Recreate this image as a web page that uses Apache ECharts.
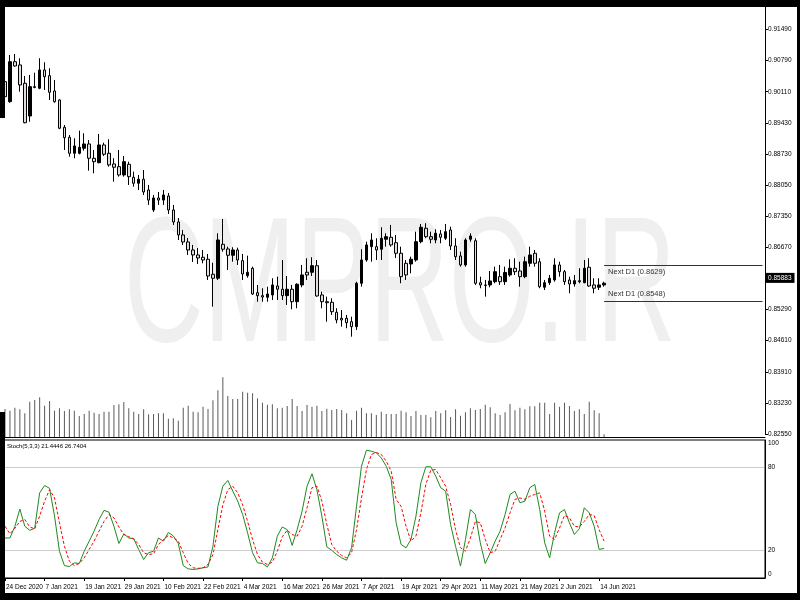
<!DOCTYPE html>
<html><head><meta charset="utf-8">
<script src="https://cdn.jsdelivr.net/npm/echarts@6/dist/echarts.min.js"></script>
<style>html,body{margin:0;padding:0;background:#fff}#c{width:800px;height:600px}</style>
</head><body><div id="c"></div>
<script>
// ---- tick labels ----
const xTickLabels = ['24 Dec 2020','7 Jan 2021','19 Jan 2021','29 Jan 2021','10 Feb 2021','22 Feb 2021','4 Mar 2021','16 Mar 2021','26 Mar 2021','7 Apr 2021','19 Apr 2021','29 Apr 2021','11 May 2021','21 May 2021','2 Jun 2021','14 Jun 2021'];
const priceTicks = ['0.82550','0.83230','0.83910','0.84610','0.85290','0.85990','0.86670','0.87350','0.88050','0.88730','0.89430','0.90110','0.90790','0.91490'];
const stochTicks = [0, 20, 80, 100];

// ---- daily OHLC (EURGBP D1) ----
const open = [0.90336,0.89894,0.90778,0.90706,0.90301,0.89578,0.90226,0.90191,0.90595,0.90469,0.90131,0.89932,0.89329,0.89108,0.88754,0.88754,0.88865,0.8896,0.88644,0.88546,0.88938,0.88754,0.88518,0.88458,0.88275,0.88511,0.88224,0.88091,0.8818,0.87943,0.87501,0.87766,0.8772,0.8781,0.87501,0.87236,0.86949,0.86794,0.86617,0.86507,0.86456,0.86412,0.8608,0.85992,0.86743,0.86639,0.865,0.86617,0.86381,0.86049,0.86213,0.85673,0.85607,0.85572,0.85623,0.85821,0.85749,0.85607,0.85749,0.85474,0.85844,0.86124,0.86124,0.8627,0.85623,0.85474,0.85461,0.8524,0.85108,0.85108,0.85032,0.84922,0.85881,0.86396,0.8669,0.8669,0.86633,0.86854,0.86898,0.86778,0.86544,0.86323,0.86308,0.86396,0.868,0.87097,0.86911,0.86838,0.86971,0.86876,0.87059,0.86705,0.86484,0.86286,0.86854,0.86822,0.85894,0.85844,0.85844,0.85916,0.86027,0.85916,0.86065,0.86213,0.86153,0.86027,0.86323,0.86544,0.86358,0.85793,0.85894,0.85954,0.86286,0.86137,0.85954,0.85866,0.85939,0.85894,0.86235,0.85844,0.85793,0.85844];
const close = [0.90005,0.90778,0.90683,0.90264,0.8943,0.90226,0.90208,0.90595,0.90447,0.90102,0.89894,0.89307,0.89099,0.88754,0.88915,0.88887,0.8896,0.88644,0.88568,0.88938,0.88732,0.88496,0.88445,0.88275,0.88568,0.88237,0.88091,0.8818,0.87899,0.8772,0.87766,0.8772,0.87833,0.87501,0.87236,0.86949,0.86794,0.86617,0.86507,0.8644,0.86396,0.86042,0.85992,0.86838,0.86633,0.865,0.86617,0.86396,0.86087,0.86124,0.85645,0.85607,0.85578,0.85645,0.85844,0.85749,0.85607,0.85749,0.85474,0.85859,0.86065,0.86065,0.8627,0.856,0.85474,0.85452,0.85253,0.8507,0.8507,0.8501,0.84922,0.85881,0.86396,0.86728,0.86838,0.86617,0.86876,0.86911,0.86728,0.86544,0.86027,0.86065,0.86412,0.868,0.87119,0.86911,0.86854,0.86986,0.86898,0.87021,0.86705,0.86469,0.86286,0.86838,0.86926,0.85881,0.85844,0.85832,0.85932,0.86137,0.85916,0.8612,0.86213,0.86137,0.86027,0.86358,0.86507,0.86323,0.85806,0.85894,0.85992,0.86286,0.86137,0.85916,0.85866,0.85939,0.85916,0.86213,0.85821,0.85771,0.85844,0.85883];
const low = [0.89954,0.89872,0.90668,0.90115,0.89417,0.89452,0.90191,0.90169,0.90153,0.89932,0.89872,0.89285,0.88827,0.88679,0.88644,0.8873,0.88812,0.8837,0.88312,0.88533,0.88694,0.88458,0.88126,0.88237,0.88237,0.88054,0.88016,0.87943,0.87833,0.87612,0.87457,0.87612,0.87612,0.87413,0.8717,0.86838,0.86728,0.86507,0.86352,0.86308,0.86323,0.85954,0.85364,0.85954,0.86579,0.86175,0.86358,0.86286,0.85954,0.86005,0.85623,0.85474,0.85474,0.85474,0.85512,0.85512,0.85512,0.85402,0.85307,0.85329,0.85793,0.85954,0.86042,0.85585,0.85329,0.85032,0.85181,0.84997,0.84922,0.84887,0.84701,0.84849,0.85806,0.86358,0.86358,0.86396,0.86396,0.8669,0.8669,0.8644,0.85881,0.85954,0.86102,0.86358,0.86765,0.86876,0.86765,0.86765,0.86765,0.86838,0.86617,0.86396,0.86248,0.86248,0.868,0.85844,0.85771,0.85585,0.85793,0.85881,0.85844,0.85844,0.86027,0.86065,0.85806,0.85992,0.86248,0.86248,0.85771,0.85733,0.85844,0.85916,0.86027,0.85844,0.8566,0.85806,0.85881,0.85881,0.85806,0.8566,0.85733,0.85806];
const high = [0.90396,0.90927,0.90949,0.90854,0.90462,0.90485,0.90535,0.90854,0.90765,0.90633,0.90374,0.89948,0.8938,0.89159,0.89086,0.89254,0.89196,0.89048,0.88827,0.89181,0.88988,0.89064,0.88644,0.88827,0.88694,0.88568,0.88347,0.88275,0.88385,0.88054,0.87833,0.87899,0.87943,0.87877,0.87612,0.87324,0.8706,0.86882,0.86728,0.86661,0.86617,0.86529,0.86336,0.86986,0.87302,0.8669,0.86677,0.86668,0.86529,0.86491,0.86248,0.85844,0.85771,0.85806,0.85992,0.86027,0.86396,0.86042,0.85844,0.85881,0.86286,0.86434,0.86456,0.86396,0.85695,0.85585,0.8555,0.85329,0.85291,0.85181,0.85143,0.85916,0.86633,0.868,0.86986,0.86876,0.87119,0.86986,0.8717,0.86949,0.8669,0.86396,0.86469,0.87021,0.87192,0.87207,0.87021,0.87075,0.87059,0.87192,0.87132,0.86876,0.86579,0.86876,0.86986,0.86876,0.86027,0.85954,0.86153,0.86248,0.86286,0.86248,0.86412,0.86434,0.86358,0.86469,0.8669,0.86617,0.86434,0.85954,0.86065,0.86434,0.86358,0.86175,0.86027,0.86065,0.86213,0.86396,0.86434,0.85992,0.85992,0.85916];
// tick volume (relative units)
const volume = [28,26.3,29.3,27.7,23.7,35.3,37,39.7,31.3,36,26.3,28.7,26,27.7,26.3,21,23,26.3,24.3,23,25.3,25.3,32,32.7,35,28.7,25.3,23,27.7,22.7,23,23.7,23.7,18.3,18.7,16.3,29.3,31.3,25.3,24.7,30.3,28,36.7,46.7,59.7,41,38,38,45.3,44.3,43.7,38.7,34.3,32.3,32.7,28.7,29.3,31,38,31,26,32,30.3,31.3,26,28.3,27,28,27,23.7,17,26.3,29.3,23.7,23.7,22,25.3,23,23,23,26.3,24.7,21,26,22,22,19.7,26,23.7,26.7,20,27.7,21.3,24.7,28.7,27,28,32.3,29.7,23.7,22,24.7,33,26.7,29.3,27.7,30.7,30.7,34.3,34.3,23,34.3,30.3,34.3,31,26,27.7,23,35.3,26.7,23.7,2.7];
// Stochastic (5,3,3)
const stochMain = [29,29,37.5,50,37.5,34.6,36,61.7,67,65,45,19.4,9,8.3,11,10.5,19.4,26.7,34,42.4,49,47.7,37.5,25,32,29,28.4,20.7,13.4,18.3,19.4,29,26.7,33,30.5,25,9,6.6,6.2,6.6,7.4,8,23,52,66.5,70.7,63,55.7,46,32.7,18.3,11,10.5,8,14.6,30.3,37,35,23.6,35,48.4,66.5,75.5,64,44.8,22.6,20,17,14.6,12.9,21.9,52,81,92.6,91.9,90.7,87,81,71.4,40,24.3,21.9,27.9,44.8,69,80.6,80.6,73.8,65.4,62.9,38.8,23,8.6,27.9,49.6,46,25.5,10.5,18.3,26.7,34,46,60.5,62.9,54.5,55.7,65.4,67.8,49.6,25.5,14.6,32.8,47.2,49.6,40,31.5,35.7,50.9,47.2,37.5,20.7,21.4446];
const stochSignal = [37.5,32,36,41,42.4,37,35.6,44.8,55.7,64,58,40,23,12.2,9,10.5,14.6,20.7,26.7,34,41,46,43.6,37,31.5,29.9,28.4,24.3,18.3,17,17.5,24.3,27.9,30.8,29,26.7,18.3,10.5,7.4,7,7.4,9.8,17,35,53,64,66.5,61.7,53,41,27.9,17,11.5,9.8,11.5,19.4,29.9,34.6,31.5,30.3,37.5,50.9,65.4,66.5,55.7,38.8,24.3,19.4,16.3,14.6,18.3,35,58,78.6,89.5,91,89.5,84.6,77.4,57,52,37.5,26.7,30.3,47.2,67.8,78.1,78.6,72.6,66.5,53.3,35,21.9,19.4,29,41,40,27.9,18.3,19.4,27.9,36.3,47.2,57,58,57,59.3,60.5,61.7,48.4,30.3,27.9,36.3,45.3,43.6,37.5,37,41,46,45.3,35,26.7404];
const nextD1 = [0.8629, 0.8548];
const lastPrice = 0.85883;
const stochTitle = 'Stoch(5,3,3) 21.4446 26.7404';
const watermark = 'CMPRO.IR';

// ---- layout ----
const SLOTS = 154;
const cats = Array.from({length: SLOTS}, (_, i) => String(i));
const PMIN = 0.8255, PSTEP = 0.0894 / 13, PMAX = 0.919867;
const FONT = 'Liberation Sans';
const FS = 6.5;
const L = 2.524, R = 35;

const candles = open.map((o, i) => [o, close[i], low[i], high[i]]);
const lastIdx = open.length - 1;

const chart = echarts.init(document.getElementById('c'), null, {renderer: 'canvas'});
chart.setOption({
  animation: false,
  backgroundColor: '#ffffff',
  title: {text: stochTitle, left: 7, top: 443, padding: 0,
    textStyle: {fontSize: 6, fontWeight: 'normal', color: '#000', fontFamily: FONT}},
  grid: [
    {left: L, right: R, top: 7, bottom: 166},
    {left: L, right: R, top: 7, bottom: 163},
    {left: L, right: R, top: 440, bottom: 22, show: true, borderColor: '#000', borderWidth: 1, backgroundColor: 'transparent'}
  ],
  xAxis: [
    {type: 'category', gridIndex: 0, data: cats, boundaryGap: true, show: false},
    {type: 'category', gridIndex: 1, data: cats, boundaryGap: true, show: true,
      axisLine: {show: true, lineStyle: {color: '#000', width: 1}}, axisTick: {show: false}, axisLabel: {show: false}},
    {type: 'category', gridIndex: 2, data: cats, boundaryGap: true,
      axisLine: {lineStyle: {color: '#000', width: 1}},
      axisTick: {show: true, alignWithLabel: true, length: 3, lineStyle: {color: '#000'},
        interval: (i) => i % 8 === 0 && i / 8 < xTickLabels.length},
      axisLabel: {interval: (i) => i % 8 === 0 && i / 8 < xTickLabels.length,
        formatter: (v, i) => xTickLabels[Math.round(+v / 8)] || '',
        align: 'left', margin: 6, padding: [0, 0, 0, 1], fontSize: FS, color: '#000', fontFamily: FONT},
      splitLine: {show: false}}
  ],
  yAxis: [
    {type: 'value', gridIndex: 0, position: 'right', min: PMIN, max: PMAX, interval: PSTEP,
      axisLine: {show: true, lineStyle: {color: '#000'}},
      axisTick: {show: true, length: 3, inside: false, lineStyle: {color: '#000'}},
      splitLine: {show: false},
      axisLabel: {showMaxLabel: false, margin: 3, fontSize: FS, color: '#000', fontFamily: FONT,
        formatter: (v) => { const k = Math.round((v - PMIN) / PSTEP); return Math.abs(PMIN + k * PSTEP - v) < 1e-6 ? (priceTicks[k] || '') : ''; }}},
    {type: 'value', gridIndex: 1, min: 0, max: 430, show: false},
    {type: 'value', gridIndex: 2, position: 'right', min: 0, max: 100, interval: 20,
      axisLine: {show: true, lineStyle: {color: '#000'}},
      axisTick: {show: false},
      splitLine: {show: false},
      axisLabel: {margin: 3, fontSize: FS, color: '#000', fontFamily: FONT,
        verticalAlignMaxLabel: 'top', verticalAlignMinLabel: 'bottom',
        formatter: (v) => stochTicks.indexOf(v) >= 0 ? String(v) : ''}}
  ],
  graphic: [
    {type: 'text', z: 0, x: 400, y: 292, scaleX: 0.62, scaleY: 1, silent: true,
      style: {text: watermark, fontSize: 178, fontFamily: FONT, fill: '#efefef', align: 'center', verticalAlign: 'middle'}},
    {type: 'rect', z: 100, shape: {x: 0, y: 0, width: 800, height: 7}, style: {fill: '#000'}},
    {type: 'rect', z: 100, shape: {x: 0, y: 593, width: 800, height: 7}, style: {fill: '#000'}},
    {type: 'rect', z: 100, shape: {x: 797, y: 0, width: 3, height: 600}, style: {fill: '#000'}},
    {type: 'rect', z: 100, shape: {x: 0, y: 0, width: 5, height: 118}, style: {fill: '#000'}},
    {type: 'rect', z: 100, shape: {x: 0, y: 412, width: 5, height: 188}, style: {fill: '#000'}}
  ],
  series: [
    {type: 'bar', name: 'Volume', xAxisIndex: 1, yAxisIndex: 1, data: volume, barWidth: 1, z: 1,
      itemStyle: {color: '#5a5a5a'}, silent: true},
    {type: 'candlestick', name: 'EURGBP', xAxisIndex: 0, yAxisIndex: 0, data: candles, barWidth: 3, clip: false,
      itemStyle: {color: '#000000', color0: '#e4dcdc', borderColor: '#000000', borderColor0: '#000000', borderWidth: 1},
      markLine: {silent: true, symbol: 'none', animation: false,
        data: [
          [{coord: [String(lastIdx), nextD1[0]], label: {show: true, position: 'insideStartBottom', formatter: 'Next D1 (' + nextD1[0].toFixed(4) + ')', distance: [4, 3]}},
           {coord: [String(SLOTS - 1), nextD1[0]]}],
          [{coord: [String(lastIdx), nextD1[1]], label: {show: true, position: 'insideStartTop', formatter: 'Next D1 (' + nextD1[1].toFixed(4) + ')', distance: [4, 3]}},
           {coord: [String(SLOTS - 1), nextD1[1]]}]
        ],
        lineStyle: {color: '#333', type: 'solid', width: 1},
        label: {fontSize: 7.5, color: '#333', fontFamily: FONT}}},
    {type: 'line', name: 'LastPrice', xAxisIndex: 0, yAxisIndex: 0, data: [], clip: false, silent: true,
      markLine: {silent: true, symbol: 'none', animation: false,
        lineStyle: {color: 'transparent', width: 0},
        data: [{yAxis: lastPrice}],
        label: {show: true, position: 'end', distance: 0, formatter: lastPrice.toFixed(5),
          backgroundColor: '#000', color: '#fff', padding: [2, 3, 1, 3], fontSize: FS, fontFamily: FONT}}},
    {type: 'line', name: 'Main', xAxisIndex: 2, yAxisIndex: 2, data: stochMain, symbol: 'none',
      lineStyle: {color: '#1e8a1e', width: 1}, z: 3,
      markLine: {silent: true, symbol: 'none', label: {show: false},
        lineStyle: {color: '#9a9a9a', type: 'dotted', width: 1},
        data: [{yAxis: 80}, {yAxis: 20}]}},
    {type: 'line', name: 'Signal', xAxisIndex: 2, yAxisIndex: 2, data: stochSignal, symbol: 'none',
      lineStyle: {color: '#ff0000', width: 1, type: [3, 2]}, z: 3}
  ]
});
</script></body></html>
